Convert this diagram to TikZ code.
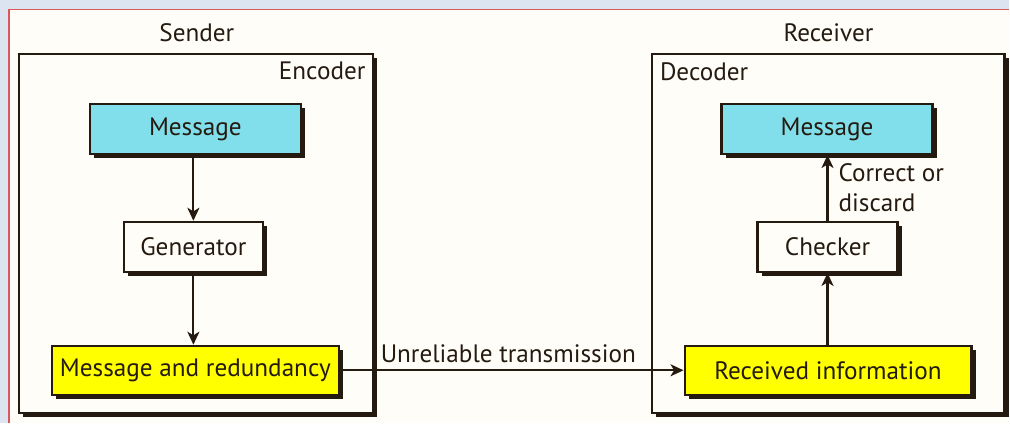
\documentclass[tikz,border=0pt]{standalone}
\usepackage{fontspec}
\setmainfont{PT Sans}
\usetikzlibrary{shadows,arrows.meta}

\definecolor{pageblue}{HTML}{DCE4F2}
\definecolor{pagered}{HTML}{D9585A}
\definecolor{paper}{HTML}{FFFDF8}
\definecolor{msgcyan}{HTML}{80DFEA}
\definecolor{infoyellow}{HTML}{FFFF00}
\definecolor{ink}{HTML}{241A10}

\tikzset{
  every node/.style={text=ink, font=\fontsize{12.6}{15}\selectfont},
  shade box/.style={drop shadow={shadow xshift=2.2pt, shadow yshift=-2.2pt, fill=ink, opacity=1}},
  frame/.style={draw=ink, line width=1.1pt, fill=paper, shade box},
  block/.style={draw=ink, line width=1.1pt, minimum height=25pt, inner sep=0pt, shade box},
  flow/.style={draw=ink, line width=1.1pt, -{Stealth[length=6.5pt,width=6pt,inset=1.8pt]}}
}

\begin{document}
\begin{tikzpicture}[x=0.5pt, y=-0.5pt]
	% page
	\fill[pageblue] (0,0) rectangle (1010,423);
	\fill[paper] (9,9.5) rectangle (1010,423);
	\draw[pagered, line width=0.6pt] (9,423) -- (9,9.5) -- (1010,9.5);

	% sender side
	\node (sender) at (197,33) {Sender};
	\node[frame, minimum width=177pt, minimum height=179.5pt] (enc) at (196,233.5) {};
	\node[anchor=north east, inner sep=0pt] (enctxt) at (366,62) {Encoder};
	\node[block, fill=msgcyan, minimum width=105.5pt] (msgA) at (195.5,129) {Message};
	\node[block, fill=paper, minimum width=69.5pt] (gen) at (193.5,247) {Generator};
	\node[block, fill=infoyellow, minimum width=143.5pt, minimum height=24.5pt] (red) at (195.5,370.5) {Message and redundancy};

	\draw[flow] (msgA.south -| gen.north) -- (gen.north);
	\draw[flow] (gen.south) -- (gen.south |- red.north);

	% receiver side
	\node (receiver) at (829,33) {Receiver};
	\node[frame, minimum width=176.5pt, minimum height=179.5pt] (dec) at (828.5,233.5) {};
	\node[anchor=north west, inner sep=0pt] (dectxt) at (660,62) {Decoder};
	\node[block, fill=msgcyan, minimum width=105.5pt] (msgB) at (827.5,129) {Message};
	\node[block, fill=paper, minimum width=70pt] (chk) at (828,247) {Checker};
	\node[block, fill=infoyellow, minimum width=143.5pt, minimum height=24.5pt] (info) at (828.5,370.5) {Received information};

	\draw[flow] (info.north -| chk.south) -- (chk.south);
	\draw[flow] (chk.north) -- (chk.north |- msgB.south)
		node[pos=0.5, anchor=west, align=left, inner sep=0pt, xshift=5pt, font=\fontsize{12.6}{15}\selectfont] (cor) {Correct or\\discard};

	% channel
	\draw[flow] (red.east) -- (info.west)
		node[pos=0.49, above, inner sep=3pt] (chan) {Unreliable transmission};
\end{tikzpicture}
\end{document}
